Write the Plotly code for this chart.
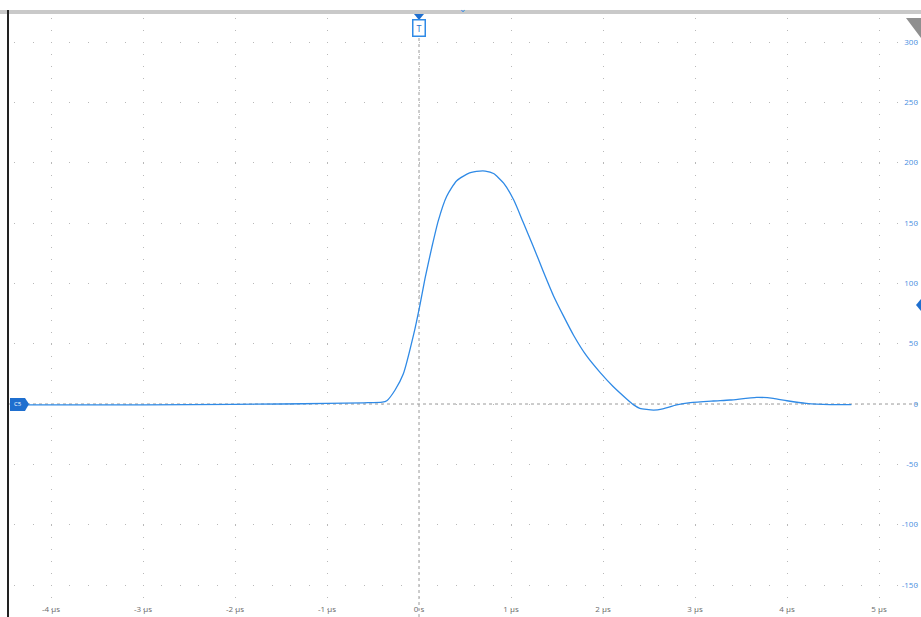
import plotly.graph_objects as go

# ---- data (time in microseconds, amplitude in channel units) ----
time_us = [-4.25, -3.5, -2.5, -1.5, -1.0, -0.6, -0.4, -0.35, -0.26, -0.17, -0.06, 0.01,
           0.065, 0.14, 0.21, 0.30, 0.41, 0.55, 0.66, 0.72, 0.81, 0.92, 1.03, 1.13,
           1.24, 1.35, 1.46, 1.57, 1.68, 1.82, 1.97, 2.11, 2.26, 2.33, 2.40, 2.55,
           2.65, 2.80, 2.95, 3.20, 3.38, 3.67, 3.85, 4.00, 4.21, 4.47, 4.70]
amplitude = [-0.8, -0.8, -0.5, 0.0, 0.5, 1.0, 1.5, 2.7, 11.6, 25.0, 57.0, 82.0,
             104.0, 130.0, 152.0, 172.0, 185.0, 191.5, 193.0, 193.0, 191.0, 183.0, 169.0, 151.0,
             131.0, 110.0, 90.0, 73.0, 57.0, 40.0, 26.0, 14.5, 4.0, -0.5, -3.6, -5.0,
             -4.0, -0.8, 1.1, 2.5, 3.3, 5.5, 4.7, 2.7, 0.5, -0.5, -0.5]

x_tick_vals = [-4, -3, -2, -1, 0, 1, 2, 3, 4, 5]
x_tick_text = ["-4 µs", "-3 µs", "-2 µs", "-1 µs", "0 s", "1 µs", "2 µs", "3 µs", "4 µs", "5 µs"]
y_tick_vals = [-150, -100, -50, 0, 50, 100, 150, 200, 250, 300]
y_tick_text = ["-150", "-100", "-50", "0", "50", "100", "150", "200", "250", "300"]
trigger_level = 82

# ---- layout geometry ----
W, H = 921, 617
L, R, T, B = 9, 921, 14, 617
PX_PER_US = 92.0
PX_PER_UNIT = 543 / 450
X0_PX, Y0_PX = 419, 404
x_range = [(L - X0_PX) / PX_PER_US, (R - X0_PX) / PX_PER_US]
y_range = [(Y0_PX - B) / PX_PER_UNIT, (Y0_PX - T) / PX_PER_UNIT]

def px_x(p):
    return (p - L) / (R - L)

def px_y(p):
    return (B - p) / (B - T)

BLUE = "#2f8ae6"
DARKBLUE = "#1f6fcf"
GRID = "#b9b9b9"

fig = go.Figure()
fig.add_trace(go.Scatter(
    x=time_us, y=amplitude, mode="lines",
    line=dict(color=BLUE, width=1.3, shape="spline", smoothing=0.6),
    hoverinfo="skip", showlegend=False,
))

fig.update_layout(
    width=W, height=H,
    margin=dict(l=L, r=W - R, t=T, b=H - B),
    paper_bgcolor="white", plot_bgcolor="white",
    font=dict(family="Open Sans, DejaVu Sans, sans-serif", size=8),
    showlegend=False,
    xaxis=dict(
        range=x_range, tickmode="array", tickvals=x_tick_vals, ticktext=x_tick_text,
        ticklabelposition="inside", ticks="", showline=False, zeroline=False,
        showgrid=True, gridcolor=GRID, gridwidth=1, griddash="0px,3.9px,1px,7.167px",
        tickfont=dict(color="#6b6b6b", size=8),
        fixedrange=True,
    ),
    yaxis=dict(
        range=y_range, tickmode="array", tickvals=y_tick_vals, ticktext=y_tick_text,
        side="right", ticklabelposition="inside", ticks="", showline=False, zeroline=False,
        showgrid=True, gridcolor=GRID, gridwidth=1, griddash="0px,5.2px,1px,12.2px",
        tickfont=dict(color="#4a90e2", size=8),
        fixedrange=True,
    ),
)

# reference lines (zero time and zero level)
fig.add_shape(type="line", xref="x", yref="paper", x0=0, x1=0, y0=0, y1=px_y(36),
              line=dict(color="#9a9a9a", width=1, dash="3px,3px"), layer="below")
fig.add_shape(type="line", xref="paper", yref="y", x0=0, x1=1, y0=0, y1=0,
              line=dict(color="#9a9a9a", width=1, dash="3px,3px"), layer="below")

# top grey band and left frame line
fig.add_shape(type="rect", xref="paper", yref="paper", x0=px_x(0), x1=px_x(921),
              y0=px_y(14), y1=px_y(10), fillcolor="#c9c9c9", line=dict(width=0))
fig.add_shape(type="line", xref="paper", yref="paper", x0=px_x(8), x1=px_x(8),
              y0=px_y(617), y1=px_y(10), line=dict(color="#222222", width=2))

# top-right grey corner triangle
fig.add_shape(type="path", xref="paper", yref="paper",
              path=f"M {px_x(906)},{px_y(18)} L {px_x(921)},{px_y(18)} L {px_x(921)},{px_y(38)} Z",
              fillcolor="#8f8f8f", line=dict(width=0))

# trigger marker: triangle + boxed T
fig.add_shape(type="path", xref="paper", yref="paper",
              path=f"M {px_x(414)},{px_y(14)} L {px_x(424)},{px_y(14)} L {px_x(419)},{px_y(20)} Z",
              fillcolor=DARKBLUE, line=dict(width=0))
fig.add_annotation(x=0, xref="x", y=px_y(28), yref="paper", text="T", showarrow=False,
                   font=dict(color=DARKBLUE, size=9), bordercolor=BLUE, borderwidth=1.5,
                   borderpad=1, bgcolor="white", yanchor="middle", width=9)
# small chevron near top
fig.add_annotation(x=px_x(463), xref="paper", y=px_y(9), yref="paper", text="⌄", showarrow=False,
                   font=dict(color=BLUE, size=9), yanchor="middle")

# channel tag (pointed right end)
fig.add_shape(type="path", xref="paper", yref="paper",
              path=(f"M {px_x(10)},{px_y(398)} L {px_x(25)},{px_y(398)} L {px_x(29)},{px_y(404)} "
                    f"L {px_x(25)},{px_y(411)} L {px_x(10)},{px_y(411)} Z"),
              fillcolor=DARKBLUE, line=dict(width=0))
fig.add_annotation(x=px_x(18), xref="paper", y=0, yref="y", text="C5", showarrow=False,
                   font=dict(color="white", size=6), xanchor="center", yanchor="middle")

# trigger level marker at right edge (diamond, half visible)
yl = Y0_PX - trigger_level * PX_PER_UNIT
fig.add_shape(type="path", xref="paper", yref="paper",
              path=(f"M {px_x(916)},{px_y(yl)} L {px_x(921)},{px_y(yl - 6)} "
                    f"L {px_x(926)},{px_y(yl)} L {px_x(921)},{px_y(yl + 6)} Z"),
              fillcolor=DARKBLUE, line=dict(width=0))

fig.write_html("out.html")
